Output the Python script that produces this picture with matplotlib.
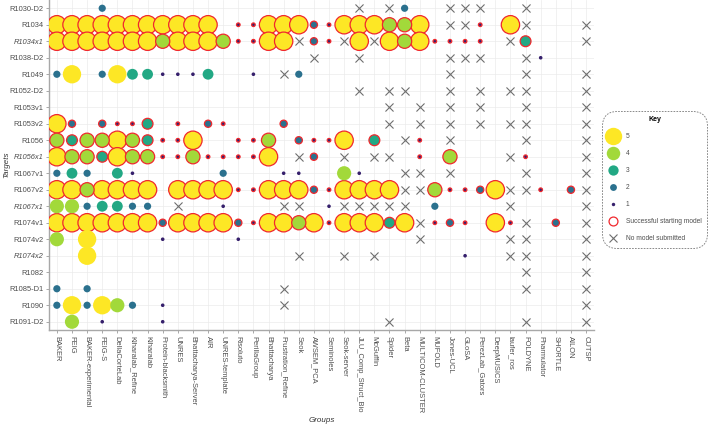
import matplotlib
matplotlib.use("Agg")
import matplotlib.pyplot as plt
from matplotlib.lines import Line2D

plt.rcParams['font.family'] = ['Liberation Sans', 'DejaVu Sans']

targets = ["R1030-D2", "R1034", "R1034x1", "R1038-D2", "R1049", "R1052-D2", "R1053v1",
           "R1053v2", "R1056", "R1056x1", "R1067v1", "R1067v2", "R1067x1", "R1074v1",
           "R1074v2", "R1074x2", "R1082", "R1085-D1", "R1090", "R1091-D2"]
italic_targets = ["R1034x1", "R1056x1", "R1067x1", "R1074x2"]

groups = ["BAKER", "FEIG", "BAKER-experimental", "FEIG-S", "DellaCorteLab", "Kiharalab_Refine",
          "Kiharalab", "Protein-blacksmith", "UNRES", "Bhattacharya-Server", "AIR",
          "UNRES-template", "Risoluto", "PerillaGroup", "Bhattacharya", "Frustration_Refine",
          "Seok", "AWSEM_PCA", "Seminoles", "Seok-server", "JLU_Comp_Struct_Bio", "McGuffin",
          "Spider", "Beta", "MULTICOM-CLUSTER", "MUFOLD", "Jones-UCL", "GLoSA",
          "PerezLab_Gators", "DeepMUSICS", "laufer_ros", "FOLDYNE", "Pharmulator", "SHORTLE",
          "AILON", "CUTSP"]

# score 1-5, 'r' = successful starting model, 'X' = no model submitted, '.' = nothing
cells = [
    ". . . 2 . .   . . . . . .   . . . . . .   . . X . X 2   . . X X X .   . X . . . .",
    "5r 5r 5r 5r 5r 5r   5r 5r 5r 5r 5r .   1r 1r 5r 5r 5r 2r   1r 5r 5r 5r 4r 4r   5r . X X 1r .   5r X . . . X",
    "5r 5r 5r 5r 5r 5r   5r 4r 5r 5r 5r 4r   1r 1r 5r 5r X 2r   1r X 5r X 5r 4r   5r 1r 1r 1r 1r .   X 3r . . . X",
    ". . . . . .   . . . . . .   . . . . . X   . . X . . .   . . X X X .   . X 1 . . .",
    "2 5 . 2 5 3   3 1 1 1 3 .   . 1 . X 2 .   . . . . . .   . . X . . .   . X . . . X",
    ". . . . . .   . . . . . .   . . . . . .   . . X . X X   . . X . X .   X X . . . X",
    ". . . . . .   . . . . . .   . . . . . .   . . . . X .   X . X . X .   . X . . . X",
    "5r 2r . 2r 1r 1r   3r . 1r . 2r 1r   . . . 2r . .   . . . . X .   X . X . X .   X X . . . X",
    "4r 3r 4r 4r 5r 4r   3r 1r 1r 5r . .   1r 1r 4r . 2r 1r   1r 5r . 3r . X   1r . X . . .   . X . . . X",
    "5r 4r 4r 3r 5r 4r   4r 1r 1r 4r 1r 1r   1r 1r 5r . X 2r   . X . X X .   1r . 4r . . .   X 1r . . . X",
    "2 3 2 . 3 1   . . . . . 2   . . . 1 1 .   . 4 1 . . X   X . X . . .   . X . . . X",
    "5r 5r 4r 5r 5r 5r   5r . 5r 5r 5r 5r   1r 1r 5r 5r 5r 2r   1r 5r 5r 5r 5r X   X 4r 1r 1r 2r 5r   X X 1r . 2r X",
    "4 4 2 3 3 2   2 . X . . 1   . . . X X .   1 X X X X X   . 2 . . . .   X . . . . X",
    "5r 5r 5r 5r 5r 5r   5r 2r 5r 5r 5r 5r   2r 1r 5r 5r 4r 5r   1r 5r 5r 5r 3r 5r   X 1r 2r 1r . 5r   1r X . 2r . X",
    "4 . 5 . . .   . 1 . . . .   1 . . . . .   . . . . . .   X . . . . .   X X . . . X",
    ". . 5 . . .   . . . . . .   . . . . X .   . X . X . .   . . . 1 . .   X X . . . X",
    ". . . . . .   . . . . . .   . . . . . .   . . . . . .   . . . . . .   . X . . . X",
    "2 . 2 . . .   . . . . . .   . . . X . .   . . . . . .   . . . . . .   . X . . . X",
    "2 5 2 5 4 2   . 1 . . . .   . . . X . .   . . . . . .   . . . . . .   . . . . . X",
    ". 4 . 1 . .   . 1 . . . .   . . . . . .   . . . . X .   . . . . . .   . X . . . X",
]

score_levels = [5, 4, 3, 2, 1]
score_colors = {5: "#FDE725", 4: "#A2D93A", 3: "#22A884", 2: "#2B718E", 1: "#36206C"}
score_sizes = {5: 13.2, 4: 10.2, 3: 7.8, 2: 5.2, 1: 2.6}   # marker diameter in points
key_labels = ["5", "4", "3", "2", "1", "Successful starting model", "No model submitted"]

W, H = 709, 428
fig = plt.figure(figsize=(W / 100, H / 100), dpi=100)
ax = fig.add_axes([49.3 / W, 1 - 330 / H, 544.3 / W, 330 / H])

gx, gy, gs, gc, ge, glw = [], [], [], [], [], []
xx, xy = [], []
for ri, row in enumerate(cells):
    toks = row.split()
    for ci, t in enumerate(toks):
        if t == '.':
            continue
        if t == 'X':
            xx.append(ci)
            xy.append(ri)
            continue
        v = int(t[0])
        succ = t.endswith('r')
        gx.append(ci)
        gy.append(ri)
        d = score_sizes[v]
        gs.append(d ** 2)
        gc.append(score_colors[v])
        ge.append("#F0282D" if succ else "none")
        glw.append(0.9 if succ else 0.0)

order = sorted(range(len(gx)), key=lambda i: -gs[i])
ax.scatter([gx[i] for i in order], [gy[i] for i in order], s=[gs[i] for i in order],
           c=[gc[i] for i in order], edgecolors=[ge[i] for i in order],
           linewidths=[glw[i] for i in order], zorder=3)
ax.scatter(xx, xy, marker='x', s=5.8 ** 2, c="#6E6E6E", linewidths=0.8, zorder=3)

ax.set_xlim(-0.5, len(groups) - 0.5)
ax.set_ylim(len(targets) - 0.5, -0.5)
ax.set_xticks(range(len(groups)))
ax.set_xticklabels(groups, rotation=-90, fontsize=5.4, color="#4D4D4D", va='top', ha='center')
ax.set_yticks(range(len(targets)))
ax.set_yticklabels(targets, fontsize=5.4, color="#4D4D4D")
for lab in ax.get_yticklabels():
    if lab.get_text() in italic_targets:
        lab.set_style('italic')

ax.grid(True, color="#EBEBEB", linewidth=0.5, zorder=0)
ax.set_axisbelow(True)
for sp in ['top', 'right']:
    ax.spines[sp].set_visible(False)
for sp in ['left', 'bottom']:
    ax.spines[sp].set_color("#A8A8A8")
    ax.spines[sp].set_linewidth(1.0)
ax.tick_params(axis='both', length=2.5, width=0.7, color="#A8A8A8", pad=1.5)

ax.set_xlabel("Groups", fontsize=5.8, style='italic', color="#333333")
ax.set_ylabel("Targets", fontsize=5.8, style='italic', color="#333333")
ax.xaxis.set_label_coords(0.5, -0.265)
ax.yaxis.set_label_coords(-0.072, 0.5)

handles = []
for v in score_levels:
    handles.append(Line2D([], [], linestyle='none', marker='o', markersize=score_sizes[v] * 0.95,
                          markerfacecolor=score_colors[v], markeredgecolor='none'))
handles.append(Line2D([], [], linestyle='none', marker='o', markersize=6.4,
                      markerfacecolor='white', markeredgecolor="#F0282D", markeredgewidth=0.9))
handles.append(Line2D([], [], linestyle='none', marker='x', markersize=5.5,
                      color="#6E6E6E", markeredgewidth=0.8))

leg = fig.legend(handles, key_labels, loc='upper left',
                 bbox_to_anchor=(602 / W, 1 - 111 / H), borderaxespad=0,
                 fontsize=4.8, title="Key", title_fontproperties={'weight': 'bold', 'size': 5},
                 frameon=True, labelspacing=1.5, handlelength=1.6, handletextpad=1.2,
                 borderpad=0.8, labelcolor="#4D4D4D")
fr = leg.get_frame()
fr.set_boxstyle('round,pad=0,rounding_size=2.2')
fr.set_linestyle((0, (2, 1.5)))
fr.set_edgecolor("#555555")
fr.set_linewidth(0.6)

fig.savefig("out.png", dpi=100)
